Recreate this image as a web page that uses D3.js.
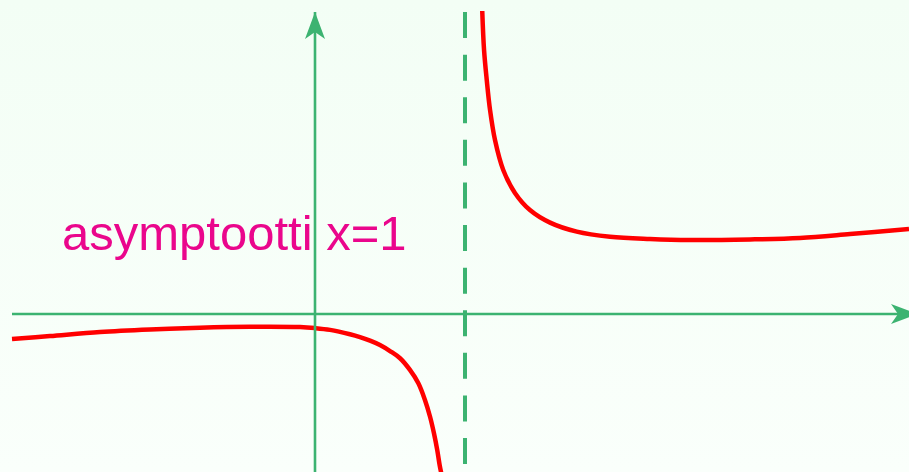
<!DOCTYPE html>
<html>
<head>
<meta charset="utf-8">
<script src="https://cdn.jsdelivr.net/npm/d3@7"></script>
<style>
  html, body { margin: 0; padding: 0; }
  body { width: 909px; height: 472px; overflow: hidden; }
  svg { display: block; }
</style>
</head>
<body>
<div id="chart"></div>
<script>
// curve values (x, y in axis units)
const leftX = [-2.02, -1.767, -1.433, -1.1, -0.767, -0.433, -0.1, 0, 0.1, 0.233, 0.3, 0.367, 0.433, 0.5, 0.567, 0.633, 0.689, 0.733, 0.767, 0.793, 0.815, 0.831, 0.843]
const leftY = [-0.167, -0.147, -0.12, -0.103, -0.091, -0.085, -0.087, -0.094, -0.106, -0.135, -0.154, -0.178, -0.207, -0.247, -0.295, -0.373, -0.462, -0.573, -0.685, -0.795, -0.907, -1.007, -1.067]
const rightX = [1.115, 1.127, 1.145, 1.167, 1.2, 1.255, 1.333, 1.433, 1.567, 1.745, 1.967, 2.233, 2.5, 2.9, 3.233, 3.567, 3.96]
const rightY = [2.02, 1.76, 1.56, 1.36, 1.16, 0.96, 0.807, 0.693, 0.609, 0.549, 0.515, 0.5, 0.493, 0.497, 0.507, 0.533, 0.567]

const asymptoteX = 1
const axisX = [-2.02, 4.02]
const axisY = [-1.06, 2.013]
const label = 'asymptootti x=1'

const width = 909
const height = 472
const green = '#3cb371'

const x = d3.scaleLinear().domain([-2.1, 3.96]).range([0, width])
const y = d3.scaleLinear().domain([-158 / 150, 314 / 150]).range([height, 0])

const svg = d3.select('#chart').append('svg')
  .attr('width', width)
  .attr('height', height)

const defs = svg.append('defs')
const grad = defs.append('linearGradient').attr('id', 'bg').attr('x1', 0).attr('y1', 0).attr('x2', 0).attr('y2', 1)
grad.append('stop').attr('offset', '0%').attr('stop-color', '#f3fef5')
grad.append('stop').attr('offset', '100%').attr('stop-color', '#fafffb')

defs.append('marker')
  .attr('id', 'arrow')
  .attr('viewBox', '-28 -11 29 22')
  .attr('refX', 0)
  .attr('refY', 0)
  .attr('markerUnits', 'userSpaceOnUse')
  .attr('markerWidth', 29)
  .attr('markerHeight', 22)
  .attr('orient', 'auto')
  .append('path')
  .attr('d', 'M0,0L-27,-10L-20,0L-27,10Z')
  .attr('fill', green)

svg.append('rect')
  .attr('width', width)
  .attr('height', height)
  .attr('fill', 'url(#bg)')

svg.append('text')
  .attr('x', 62)
  .attr('y', 250)
  .attr('font-family', '"Liberation Sans", Arial, sans-serif')
  .attr('font-size', 49)
  .attr('fill', '#ea068c')
  .text(label)

const line = d3.line()
  .x(d => x(d[0]))
  .y(d => y(d[1]))
  .curve(d3.curveCatmullRom.alpha(0.5))

const branches = [d3.zip(leftX, leftY), d3.zip(rightX, rightY)]
svg.selectAll('path.branch')
  .data(branches)
  .enter()
  .append('path')
  .attr('class', 'branch')
  .attr('d', line)
  .attr('fill', 'none')
  .attr('stroke', '#ff0000')
  .attr('stroke-width', 4.5)

// asymptote
svg.append('line')
  .attr('x1', x(asymptoteX))
  .attr('x2', x(asymptoteX))
  .attr('y1', y(axisY[1]))
  .attr('y2', height)
  .attr('stroke', green)
  .attr('stroke-width', 4)
  .attr('stroke-dasharray', '26 16.6')

// axes
svg.append('line')
  .attr('x1', x(axisX[0]))
  .attr('x2', x(axisX[1]))
  .attr('y1', y(0))
  .attr('y2', y(0))
  .attr('stroke', green)
  .attr('stroke-width', 2.6)
  .attr('marker-end', 'url(#arrow)')

svg.append('line')
  .attr('x1', x(0))
  .attr('x2', x(0))
  .attr('y1', y(axisY[0]))
  .attr('y2', y(axisY[1]))
  .attr('stroke', green)
  .attr('stroke-width', 2.6)
  .attr('marker-end', 'url(#arrow)')
</script>
</body>
</html>
